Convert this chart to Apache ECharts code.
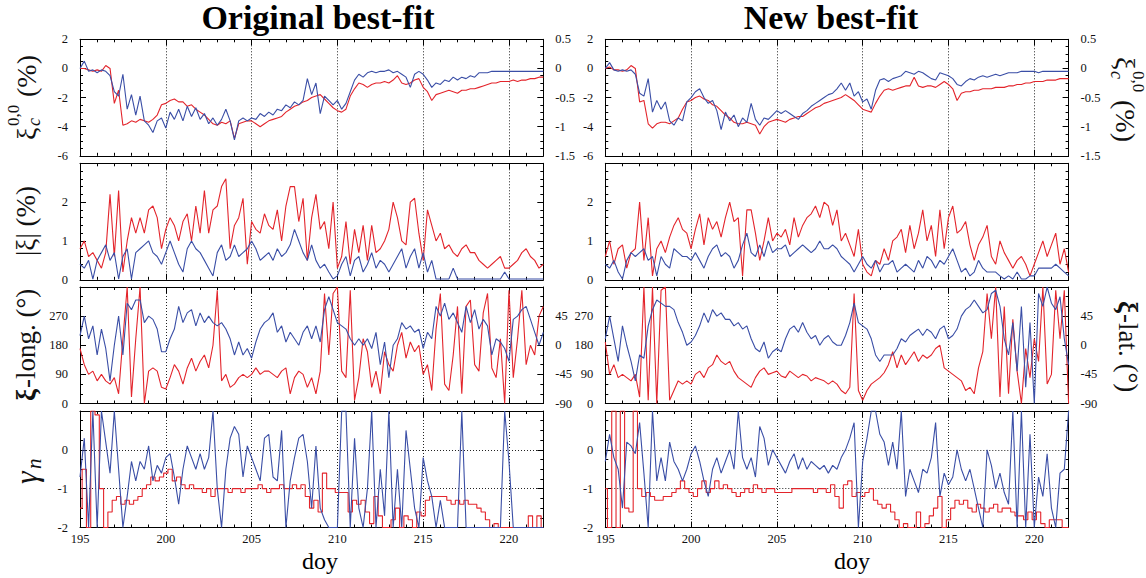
<!DOCTYPE html>
<html><head><meta charset="utf-8">
<script src="https://cdn.jsdelivr.net/npm/echarts@6/dist/echarts.min.js"></script>
<style>html,body{margin:0;padding:0;background:#fff}#c{width:1146px;height:578px}</style>
</head><body><div id="c"></div>
<script>
// ---------- DATA ----------
const DOY = [195,195.25,195.5,195.75,196,196.25,196.5,196.75,197,197.25,197.5,197.75,198,198.25,198.5,198.75,199,199.25,199.5,199.75,
200,200.25,200.5,200.75,201,201.25,201.5,201.75,202,202.25,202.5,202.75,203,203.25,203.5,203.75,204,204.25,204.5,204.75,
205,205.25,205.5,205.75,206,206.25,206.5,206.75,207,207.25,207.5,207.75,208,208.25,208.5,208.75,209,209.25,209.5,209.75,
210,210.25,210.5,210.75,211,211.25,211.5,211.75,212,212.25,212.5,212.75,213,213.25,213.5,213.75,214,214.25,214.5,214.75,
215,215.25,215.5,215.75,216,216.25,216.5,216.75,217,217.25,217.5,217.75,218,218.25,218.5,218.75,219,219.25,219.5,219.75,
220,220.25,220.5,220.75,221,221.25,221.5,221.75,222];

const COLUMN_TITLES = ['Original best-fit', 'New best-fit'];

// row 1: xi_c^{0,0} (%)
const ORIG_XI00_BLUE = [0.0,0.5,-0.2,-0.1,-0.3,-0.1,-0.2,-0.5,-1.6,-1.9,
-0.4,-2.8,-1.8,-3.2,-1.9,-3.6,-3.9,-4.4,-3.6,-3.4,
-4.1,-3.0,-3.5,-2.8,-3.6,-2.6,-3.3,-2.7,-3.5,-3.1,
-3.8,-3.4,-3.9,-3.5,-2.8,-3.6,-4.9,-3.6,-3.4,-3.6,
-3.4,-3.5,-3.1,-3.3,-3.0,-3.2,-2.8,-2.9,-2.5,-2.7,
-2.3,-2.5,-2.2,-0.7,-1.8,-1.0,-3.1,-1.9,-2.2,-2.5,
-2.2,-2.8,-2.4,-1.6,-0.8,-0.4,-0.6,-0.3,-0.2,-0.3,
-0.2,-0.2,-0.1,-0.3,-0.2,-0.4,-0.6,-1.3,-0.4,-0.2,
-0.4,-0.8,-1.3,-1.0,-1.1,-0.8,-0.9,-0.6,-0.8,-0.6,
-0.7,-0.5,-0.6,-0.3,-0.3,-0.3,-0.2,-0.2,-0.2,-0.2,
-0.2,-0.2,-0.2,-0.2,-0.2,-0.2,-0.2,-0.2,-0.2];
const ORIG_XI00_RED = [0.0,0.0,-0.1,-0.2,-0.1,-0.2,0.2,0.0,-2.4,-1.5,
-3.9,-3.8,-3.6,-3.7,-3.5,-3.6,-3.7,-3.5,-3.2,-2.5,
-2.4,-2.2,-2.1,-2.3,-2.3,-2.6,-2.5,-2.8,-3.0,-3.2,
-3.5,-3.8,-3.9,-3.7,-3.8,-3.6,-4.8,-3.8,-3.7,-3.6,
-3.6,-3.8,-4.0,-3.8,-3.6,-3.5,-3.4,-3.3,-3.0,-2.8,
-2.6,-2.5,-2.3,-2.2,-2.0,-1.9,-1.8,-2.1,-2.4,-2.7,
-2.9,-3.0,-2.8,-1.9,-1.4,-1.0,-1.1,-1.3,-1.1,-1.0,
-1.0,-0.9,-1.0,-0.8,-0.5,-1.0,-1.1,-1.0,-0.8,-0.7,
-1.3,-1.6,-2.2,-1.8,-1.7,-1.6,-1.5,-1.6,-1.7,-1.5,
-1.5,-1.4,-1.4,-1.3,-1.2,-1.1,-1.0,-1.0,-0.9,-0.9,
-0.9,-0.8,-0.9,-0.8,-0.8,-0.7,-0.7,-0.6,-0.6];
const NEW_XI00_BLUE = [0.0,0.4,-0.1,-0.2,-0.1,-0.2,-0.1,-0.4,-1.7,-1.9,
-0.7,-3.0,-2.2,-2.8,-2.3,-3.6,-3.9,-3.4,-3.6,-2.3,
-2.0,-1.6,-1.4,-2.0,-2.4,-2.2,-2.9,-4.2,-3.0,-3.6,
-3.2,-4.0,-3.4,-3.7,-2.4,-3.5,-3.9,-3.4,-3.5,-3.2,
-2.9,-3.1,-2.9,-3.1,-3.3,-3.5,-3.1,-2.9,-2.6,-2.4,
-2.2,-2.0,-1.8,-1.7,-1.4,-1.0,-1.5,-1.0,-1.9,-1.6,
-2.3,-2.1,-2.8,-1.5,-0.8,-0.7,-0.9,-0.7,-0.6,-0.5,
-0.2,-0.3,-0.4,-0.2,-0.3,-0.5,-0.7,-0.8,-0.3,-0.4,
-0.5,-0.7,-1.1,-1.2,-0.9,-0.7,-0.8,-0.6,-0.5,-0.6,
-0.5,-0.4,-0.5,-0.4,-0.3,-0.3,-0.3,-0.2,-0.2,-0.2,
-0.2,-0.3,-0.2,-0.2,-0.2,-0.2,-0.2,-0.2,-0.2];
const NEW_XI00_RED = [0.0,0.1,-0.1,-0.1,-0.2,-0.1,0.2,0.0,-2.3,-2.2,
-3.8,-4.1,-3.8,-3.7,-3.7,-3.8,-3.6,-3.4,-2.8,-2.3,
-2.2,-2.0,-1.9,-2.1,-2.2,-2.5,-2.6,-2.9,-3.2,-3.4,
-3.7,-3.8,-3.8,-3.7,-3.8,-3.9,-4.5,-4.0,-3.7,-3.6,
-3.5,-3.6,-3.7,-3.5,-3.4,-3.3,-3.3,-3.1,-2.9,-2.7,
-2.6,-2.4,-2.3,-2.2,-2.1,-2.0,-1.8,-2.0,-2.2,-2.5,
-2.8,-2.9,-3.0,-2.4,-1.9,-1.5,-1.4,-1.5,-1.4,-1.3,
-1.2,-1.2,-0.6,-1.2,-1.3,-1.2,-1.2,-1.3,-1.1,-0.9,
-1.1,-1.4,-2.2,-1.7,-1.6,-1.6,-1.5,-1.5,-1.4,-1.4,
-1.4,-1.3,-1.3,-1.3,-1.2,-1.2,-1.1,-1.1,-1.0,-1.0,
-0.9,-0.9,-0.9,-0.8,-0.8,-0.8,-0.7,-0.7,-0.7];

// row 2: |xi| (%)
const ORIG_ABSXI_RED = [0.8,1.0,0.6,0.7,0.5,0.3,0.7,2.2,0.6,2.3,
0.2,1.0,1.6,1.2,1.6,1.2,1.8,1.9,1.6,0.8,
1.3,1.6,1.4,1.0,1.5,1.7,1.0,1.9,1.2,2.3,
1.2,1.8,1.9,2.4,2.6,0.8,1.4,1.6,2.1,0.4,
1.5,1.3,1.2,1.7,1.4,1.3,1.8,1.0,1.9,2.4,
2.4,1.5,2.1,0.5,1.6,2.2,1.3,1.5,0.8,2.0,
0.3,0.6,1.5,0.4,1.3,0.7,1.4,0.5,1.4,0.7,
0.8,1.0,1.3,2.0,1.6,1.0,0.9,2.0,2.1,1.2,
0.5,1.8,1.4,1.0,1.2,0.8,0.9,0.7,0.6,0.8,
0.9,0.7,0.7,0.5,0.4,0.3,0.4,0.5,0.6,0.3,
0.3,0.4,0.5,0.7,0.8,0.6,0.5,0.3,0.4];
const ORIG_ABSXI_BLUE = [0.4,0.3,0.5,0.02,0.5,0.7,0.9,0.5,0.7,0.02,
0.6,0.8,0.02,0.7,0.8,0.9,1.0,0.7,0.6,0.4,
0.7,1.0,0.7,0.4,0.2,0.8,1.0,0.8,0.7,0.5,
0.3,0.1,0.7,0.9,0.5,0.6,0.9,0.6,0.7,0.8,
1.0,0.8,0.5,0.6,0.7,0.5,0.8,0.6,0.7,0.9,
1.3,1.0,0.7,0.5,0.9,0.5,0.3,0.4,0.2,0.02,
0.1,0.4,0.6,0.1,0.5,0.6,0.2,0.4,0.7,0.3,
0.5,0.4,0.2,0.4,0.6,0.8,0.3,0.6,0.8,0.3,
0.7,0.2,0.5,0.02,0.02,0.02,0.02,0.3,0.02,0.02,
0.02,0.02,0.02,0.02,0.02,0.02,0.02,0.02,0.02,0.2,
0.02,0.02,0.02,0.02,0.02,0.02,0.02,0.02,0.02];
const NEW_ABSXI_RED = [0.6,1.0,0.4,0.8,0.9,0.3,0.7,0.8,2.0,0.5,
1.6,0.1,0.8,1.0,0.7,1.1,1.4,1.6,1.3,1.2,
0.8,1.3,1.7,0.9,1.6,1.3,1.5,1.1,1.6,2.0,
1.5,1.6,0.1,1.8,1.8,1.2,0.5,1.0,1.6,1.0,
1.2,1.1,1.3,0.9,1.6,1.1,1.4,1.6,1.7,1.9,
1.6,2.0,1.9,1.4,1.8,1.0,1.2,0.9,0.6,1.3,
0.4,0.2,0.1,0.5,0.4,0.8,0.5,1.0,1.1,1.3,
0.7,1.4,0.8,1.2,1.8,1.0,1.4,0.6,1.8,0.8,
1.6,1.9,1.2,1.3,1.5,0.9,0.5,0.9,1.1,1.4,
0.6,0.4,1.0,0.7,0.5,0.3,0.5,0.6,0.4,0.1,
0.4,0.7,1.0,0.6,0.9,1.2,0.4,0.8,0.2];
const NEW_ABSXI_BLUE = [0.4,0.3,0.5,0.2,0.02,0.5,0.7,0.6,0.7,0.8,
0.5,0.6,0.1,0.6,0.4,0.3,0.8,0.7,0.6,0.6,
0.5,0.7,0.5,0.3,0.6,0.8,0.9,0.6,0.7,0.6,
0.3,0.5,0.9,1.2,0.7,0.6,0.9,0.6,1.0,0.7,
0.8,0.8,0.9,0.6,0.7,0.8,0.9,0.8,0.7,0.8,
1.0,0.8,0.8,0.9,0.8,0.6,0.5,0.4,0.2,0.4,
0.6,0.4,0.3,0.5,0.2,0.4,0.4,0.5,0.2,0.3,
0.4,0.3,0.2,0.5,0.3,0.6,0.5,0.3,0.5,0.4,
0.6,0.8,0.5,0.2,0.3,0.1,0.2,0.5,0.3,0.2,
0.2,0.2,0.1,0.02,0.1,0.02,0.2,0.02,0.02,0.1,
0.1,0.3,0.3,0.3,0.3,0.4,0.3,0.2,0.1];

// row 3: xi longitude (deg)
const ORIG_LON_BLUE = [210,270,200,240,150,230,170,70,180,270,
150,310,290,320,320,250,270,260,230,160,
160,200,230,300,250,280,290,240,280,250,
270,250,240,250,230,200,150,190,150,170,
140,190,230,250,260,280,220,240,190,220,
200,180,220,240,200,240,190,290,330,290,
250,240,230,200,180,200,180,200,170,220,
120,190,80,180,200,250,230,240,220,230,
170,220,200,300,270,310,260,280,250,220,
300,250,290,230,260,240,150,200,190,170,
130,260,270,290,300,260,220,180,220];
const ORIG_LON_RED = [170,120,90,100,70,90,70,60,80,30,
200,360,20,200,360,0,100,110,100,50,
45,80,120,100,60,110,140,100,130,150,
110,180,350,70,90,50,60,80,90,80,
90,110,90,100,100,90,80,100,110,30,
80,100,90,50,80,30,100,340,150,340,
360,100,80,350,10,80,200,160,50,100,
30,160,120,100,180,220,140,190,160,180,
90,120,40,230,340,60,40,150,300,30,
300,320,120,100,280,340,110,80,200,0,
350,80,200,350,120,180,150,270,300];
const NEW_LON_BLUE = [200,270,200,130,240,180,130,70,150,140,
240,290,320,310,300,300,290,250,220,180,
190,210,240,280,250,290,270,280,260,260,
240,250,230,240,200,170,160,190,140,160,
170,160,200,230,240,220,250,220,200,210,
180,200,210,190,180,180,210,250,310,250,
240,230,200,150,130,150,150,150,170,200,
190,210,220,230,210,230,220,200,230,240,
200,210,230,270,290,300,320,300,280,290,
340,350,300,200,150,250,100,300,50,250,
0,340,300,360,310,290,330,200,120];
const NEW_LON_RED = [190,90,120,80,90,80,70,90,20,360,
10,360,0,350,360,10,40,70,60,70,
60,90,100,80,110,120,150,130,120,130,
100,80,70,60,50,80,100,110,90,95,
100,85,80,100,90,80,90,85,70,80,
75,70,60,70,60,40,30,50,340,40,
10,40,60,70,80,95,120,160,110,150,
120,140,160,130,150,140,150,170,180,110,
100,90,80,70,40,50,30,110,160,340,
200,360,20,300,30,260,100,0,170,80,
200,130,360,60,90,350,200,350,0];

// row 4: gamma_n
const ORIG_GAMMA_BLUE = [-0.7,0.3,-2.0,1.0,-2.0,1.0,0.2,-0.6,1.0,-0.5,
-2.0,-1.2,-0.3,-0.8,-0.3,-0.5,0.1,-0.8,-0.4,-0.6,
-0.2,-0.1,-0.7,-1.4,-0.5,0.1,-0.2,-0.5,-0.1,-0.5,
-0.2,1.0,-1.0,-2.0,-0.5,0.3,0.6,0.4,-0.7,0.1,
-0.2,-0.5,-0.8,0.3,0.4,-0.7,-0.8,0.5,-2.0,-0.8,
-0.2,0.3,0.4,-0.3,-1.5,0.1,-1.5,-1.8,-2.0,-2.0,
-2.0,1.0,1.0,-2.0,0.3,-1.5,-2.0,-1.0,1.0,-2.0,
-0.5,-1.7,1.0,-2.0,-0.5,-2.0,0.5,-0.5,-1.5,-2.0,
-0.2,-0.8,-1.2,-2.0,-1.3,-2.0,-2.0,-2.0,-2.0,1.0,
-2.0,-2.0,-2.0,-2.0,-2.0,-2.0,-2.0,-2.0,-2.0,1.0,
-0.3,-2.0,-2.0,-2.0,-2.0,-2.0,-2.0,-2.0,-2.0];
const ORIG_GAMMA_RED = [-1.5,-0.5,-2.0,1.0,0.9,-1.0,-2.0,-1.6,-1.3,-1.2,
-1.4,-1.3,-1.4,-1.3,-1.2,-1.0,-0.9,-0.7,-0.8,-0.7,
-0.6,-0.5,-0.8,-0.7,-0.9,-1.0,-0.9,-1.0,-1.0,-1.1,
-1.0,-1.2,-1.0,-1.0,-1.0,-1.1,-1.0,-1.0,-1.1,-1.0,
-1.0,-1.0,-0.9,-1.0,-1.1,-1.0,-1.0,-0.9,-1.0,-1.0,
-0.9,-1.0,-0.9,-1.2,-1.5,-1.3,-1.6,-0.6,-1.0,-1.0,
-1.1,-1.1,-1.1,-1.6,-1.3,-1.4,-1.3,-1.6,-1.9,-1.2,
-1.7,-2.0,-2.0,-1.8,-1.5,-2.0,-1.7,-1.8,-2.0,-1.6,
-1.7,-1.3,-1.2,-1.2,-1.2,-1.2,-1.3,-1.4,-1.3,-1.4,
-1.3,-1.4,-1.4,-1.5,-1.6,-1.8,-2.0,-1.9,-2.0,-2.0,
-2.0,-2.0,-2.0,-2.0,-2.0,-1.7,-2.0,-1.7,-2.0];
const NEW_GAMMA_BLUE = [-0.3,0.4,-0.2,-0.5,-1.5,0.2,0.1,-0.1,0.7,-0.6,
-2.0,1.0,-0.8,-0.2,-0.8,0.2,-0.3,-0.5,-0.8,-0.5,
-0.1,0.1,-0.3,-0.8,-1.2,-0.5,-0.2,-0.6,-0.3,0.0,
-0.5,1.0,-0.2,-0.5,-0.2,-0.7,0.6,0.3,-0.4,0.0,
-0.2,-0.4,-0.6,-0.3,-0.1,-0.5,-0.2,-0.5,-0.3,-0.4,
-0.5,-0.4,-0.6,-0.4,-0.5,-0.2,0.0,0.3,0.7,-2.0,
-0.3,0.3,1.0,1.0,0.4,0.2,-0.4,0.2,-0.5,1.0,
-1.2,-0.5,-0.8,-1.1,-0.5,-0.6,-0.2,0.7,-1.2,-0.6,
-0.9,-0.7,0.0,-0.5,-0.8,-0.5,-1.0,-1.5,-2.0,0.0,
-0.4,-1.0,-0.6,-1.1,-1.4,1.0,-2.0,1.0,-2.0,0.4,
-2.0,-0.7,-1.2,-0.1,-1.5,-2.0,-0.6,-0.5,1.0];
const NEW_GAMMA_RED = [-1.0,-2.0,1.0,-2.0,1.0,-1.5,-1.6,1.0,-1.0,-1.2,
-1.1,-1.2,-1.3,-1.3,-1.2,-1.2,-1.1,-1.0,-0.8,-1.0,
-1.1,-1.2,-1.0,-0.8,-1.1,-1.0,-0.8,-1.0,-0.9,-1.0,
-1.1,-1.2,-1.1,-1.0,-1.1,-0.9,-1.0,-1.1,-1.0,-1.0,
-1.1,-1.1,-1.1,-1.1,-1.0,-1.0,-1.0,-1.0,-1.0,-1.1,
-1.0,-1.0,-1.1,-0.9,-1.2,-1.5,-0.9,-0.8,-1.2,-1.1,
-1.2,-1.1,-1.0,-1.3,-1.4,-1.5,-1.4,-1.6,-1.8,-2.0,
-1.9,-2.0,-2.0,-1.6,-2.0,-1.9,-1.7,-1.5,-1.2,-2.0,
-1.8,-1.5,-1.3,-1.4,-1.3,-1.5,-1.6,-1.4,-1.5,-1.6,
-1.5,-1.4,-1.6,-1.5,-1.5,-1.6,-1.7,-1.7,-1.8,-1.6,
-1.8,-1.6,-1.9,-2.0,-1.8,-1.8,-1.8,-2.0,-2.0];

// ---------- LAYOUT / STYLE ----------
const FONT = 'Liberation Serif';
const RED = '#e3242b', BLUE = '#3a4ea6';
const COL_LEFT = [80, 605.3], COL_W = 463.3;
const ROW_TOP = [39.3, 163.3, 287.0, 411.0], ROW_H = 116.5;

const ROWS = [
  {min:-6, max:2, interval:2, minor:4, showMax:true,
   right:{min:-1.5, max:0.5, interval:0.5, minor:4, labels:true, showMax:true}, hgrid:false,
   data:[[ORIG_XI00_RED, ORIG_XI00_BLUE],[NEW_XI00_RED, NEW_XI00_BLUE]]},
  {min:0, max:3, interval:1, minor:5, showMax:false,
   right:{min:0, max:3, interval:1, minor:5, labels:false, showMax:false}, hgrid:false,
   data:[[ORIG_ABSXI_RED, ORIG_ABSXI_BLUE],[NEW_ABSXI_RED, NEW_ABSXI_BLUE]]},
  {min:0, max:360, interval:90, minor:3, showMax:false,
   right:{min:-90, max:90, interval:45, minor:3, labels:true, showMax:false}, hgrid:false,
   data:[[ORIG_LON_RED, ORIG_LON_BLUE],[NEW_LON_RED, NEW_LON_BLUE]]},
  {min:-2, max:1, interval:1, minor:4, showMax:false,
   right:{min:-2, max:1, interval:1, minor:4, labels:false, showMax:false}, hgrid:true,
   data:[[ORIG_GAMMA_RED, ORIG_GAMMA_BLUE],[NEW_GAMMA_RED, NEW_GAMMA_BLUE]]}
];

const grids = [], xAxes = [], yAxes = [], series = [];
const lbl = {fontFamily: FONT, fontSize: 12.5, color: '#111'};
const dotted = {color: '#222', width: 1, type: [1, 2]};

ROWS.forEach((row, r) => {
  [0, 1].forEach(c => {
    const g = grids.length;
    grids.push({left: COL_LEFT[c], top: ROW_TOP[r], width: COL_W, height: ROW_H,
                containLabel: false, outerBoundsMode: 'none'});
    const xBase = {gridIndex: g, type: 'value', min: 195, max: 222, interval: 5,
      axisLine: {show: true, onZero: false, lineStyle: {color: '#000', width: 1}},
      axisTick: {show: true, inside: true, length: 6, lineStyle: {color: '#000'}},
      minorTick: {show: true, splitNumber: 5, length: 3, lineStyle: {color: '#000'}}};
    xAxes.push(Object.assign({}, xBase, {position: 'bottom',
      axisLabel: Object.assign({show: r === 3, margin: 5, showMaxLabel: false,
        formatter: v => (v % 5 === 0 ? String(v) : '')}, lbl),
      splitLine: {show: true, showMinLine: false, showMaxLine: false, lineStyle: dotted}}));
    xAxes.push(Object.assign({}, xBase, {position: 'top', axisLabel: {show: false}, splitLine: {show: false}}));
    const yBase = {gridIndex: g, type: 'value',
      axisLine: {show: true, onZero: false, lineStyle: {color: '#000', width: 1}},
      axisTick: {show: true, inside: true, length: 6, lineStyle: {color: '#000'}}};
    yAxes.push(Object.assign({}, yBase, {position: 'left', min: row.min, max: row.max, interval: row.interval,
      minorTick: {show: true, splitNumber: row.minor, length: 3, lineStyle: {color: '#000'}},
      axisLabel: Object.assign({show: true, margin: 12, showMaxLabel: row.showMax, showMinLabel: true}, lbl),
      splitLine: {show: row.hgrid, showMinLine: false, showMaxLine: false, lineStyle: dotted}}));
    yAxes.push(Object.assign({}, yBase, {position: 'right', min: row.right.min, max: row.right.max,
      interval: row.right.interval,
      minorTick: {show: true, splitNumber: row.right.minor, length: 3, lineStyle: {color: '#000'}},
      axisLabel: Object.assign({show: row.right.labels, margin: 12, showMaxLabel: row.right.showMax, showMinLabel: true}, lbl),
      splitLine: {show: false}}));
    const [red, blue] = row.data[c];
    [[red, RED, 2], [blue, BLUE, 3]].forEach(([arr, col, z]) => {
      series.push({type: 'line', xAxisIndex: 2 * g, yAxisIndex: 2 * g,
        data: DOY.map((d, i) => [d, arr[i]]),
        showSymbol: false, symbol: 'none', clip: true, silent: true, z: z,
        step: (r === 3 && col === RED) ? 'middle' : false,
        lineStyle: {color: col, width: 1.1}, itemStyle: {color: col}});
    });
  });
});

// ---------- TEXT (titles, axis names) ----------
function vt(cx, cy, rot, parts) {
  return {type: 'group', x: cx, y: cy, rotation: rot,
    children: parts.map(p => ({type: 'text', x: p.x, y: p.y || 0,
      style: {text: p.t, font: p.f, fill: '#111', textAlign: p.a || 'left', align: p.a || 'left',
              textVerticalAlign: 'middle', verticalAlign: 'middle'}}))};
}
const F = (s, pre) => (pre ? pre + ' ' : '') + s + 'px "' + FONT + '"';
const XI00 = [
  {t: 'ξ', x: -43, f: F(28)},
  {t: 'c', x: -29, y: 8, f: F(18, 'italic')},
  {t: '0,0', x: -29, y: -13, f: F(17)},
  {t: '(%)', x: 0, f: F(28)}
];
function centered(x, y, text, font) {
  return {type: 'text', x: x, y: y, style: {text: text, font: font, fill: '#000',
    textAlign: 'center', align: 'center', textVerticalAlign: 'middle', verticalAlign: 'middle'}};
}
const graphics = [
  centered(318, 17, COLUMN_TITLES[0], F(34, 'bold')),
  centered(831, 17, COLUMN_TITLES[1], F(34, 'bold')),
  centered(320, 561, 'doy', F(24)),
  centered(852, 561, 'doy', F(24)),
  vt(26, 97, Math.PI / 2, XI00),
  vt(26, 221, Math.PI / 2, [{t: '|ξ| (%)', x: 0, a: 'center', f: F(27)}]),
  vt(26, 345, Math.PI / 2, [{t: 'ξ', x: -56, f: F(27, 'bold')}, {t: '-long. (°)', x: -43, f: F(27)}]),
  vt(26, 472, Math.PI / 2, [{t: 'γ', x: -12, f: F(32, 'italic')}, {t: 'n', x: 3, y: 8, f: F(21, 'italic')}]),
  vt(1125, 100, -Math.PI / 2, XI00),
  vt(1128, 347, -Math.PI / 2, [{t: 'ξ', x: -46, f: F(27, 'bold')}, {t: '-lat. (°)', x: -33, f: F(27)}])
];

const chart = echarts.init(document.getElementById('c'), null, {renderer: 'svg'});
chart.setOption({
  animation: false,
  backgroundColor: '#fff',
  grid: grids, xAxis: xAxes, yAxis: yAxes, series: series,
  graphic: {elements: graphics}
});
</script>
</body></html>
